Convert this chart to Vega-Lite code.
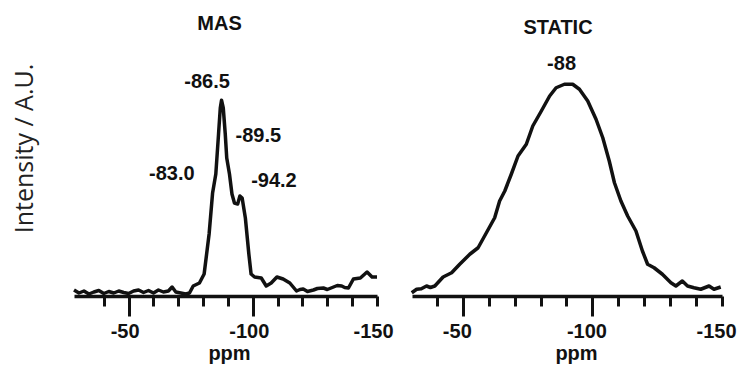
{
  "$schema": "https://vega.github.io/schema/vega-lite/v6.json",
  "background": "white",
  "padding": {"left": 12, "top": 14, "right": 0, "bottom": 2},
  "bounds": "flush",
  "spacing": 35,
  "config": {"view": {"stroke": null}, "font": "Liberation Sans"},
  "datasets": {
    "mas": [
      {"ppm": -28, "int": 2.4}, {"ppm": -30, "int": 1.2}, {"ppm": -32, "int": 2.0}, {"ppm": -34, "int": 0.8},
      {"ppm": -36, "int": 1.6}, {"ppm": -38, "int": 2.2}, {"ppm": -40, "int": 1.0}, {"ppm": -42, "int": 1.8},
      {"ppm": -44, "int": 1.2}, {"ppm": -46, "int": 2.0}, {"ppm": -48, "int": 1.4}, {"ppm": -50, "int": 1.0},
      {"ppm": -52, "int": 2.0}, {"ppm": -54, "int": 2.4}, {"ppm": -56, "int": 1.4}, {"ppm": -58, "int": 2.2},
      {"ppm": -60, "int": 1.2}, {"ppm": -62, "int": 2.4}, {"ppm": -64, "int": 1.6}, {"ppm": -66, "int": 2.0},
      {"ppm": -67.5, "int": 3.6}, {"ppm": -69, "int": 1.6}, {"ppm": -71, "int": 1.2}, {"ppm": -73, "int": 0.8},
      {"ppm": -74.5, "int": 1.2}, {"ppm": -76, "int": 4.0}, {"ppm": -78.5, "int": 5.2}, {"ppm": -80.4, "int": 8.8},
      {"ppm": -82.4, "int": 24.8}, {"ppm": -83.8, "int": 41.2}, {"ppm": -85.1, "int": 48.8}, {"ppm": -86.2, "int": 64.8},
      {"ppm": -86.9, "int": 75.2}, {"ppm": -87.4, "int": 78.3}, {"ppm": -88.1, "int": 75.2}, {"ppm": -88.9, "int": 64.8},
      {"ppm": -89.5, "int": 55.2}, {"ppm": -90.6, "int": 48.8}, {"ppm": -91.6, "int": 40.8}, {"ppm": -92.6, "int": 37.2},
      {"ppm": -93.9, "int": 36.8}, {"ppm": -94.8, "int": 40.0}, {"ppm": -95.7, "int": 39.2}, {"ppm": -97.0, "int": 31.2},
      {"ppm": -98.4, "int": 16.8}, {"ppm": -99.3, "int": 8.8}, {"ppm": -100.7, "int": 7.6}, {"ppm": -103.4, "int": 7.2},
      {"ppm": -105.4, "int": 4.0}, {"ppm": -107.4, "int": 5.2}, {"ppm": -109.7, "int": 7.6}, {"ppm": -112.2, "int": 6.8},
      {"ppm": -114.9, "int": 5.2}, {"ppm": -117.6, "int": 2.0}, {"ppm": -119, "int": 2.6}, {"ppm": -120.3, "int": 2.8},
      {"ppm": -122, "int": 1.8}, {"ppm": -124.4, "int": 2.4}, {"ppm": -126, "int": 3.0}, {"ppm": -128.4, "int": 3.2},
      {"ppm": -130, "int": 2.6}, {"ppm": -132.5, "int": 3.6}, {"ppm": -134, "int": 4.2}, {"ppm": -135.8, "int": 4.0},
      {"ppm": -137, "int": 3.4}, {"ppm": -138.5, "int": 3.2}, {"ppm": -140.5, "int": 6.8}, {"ppm": -143.3, "int": 7.2},
      {"ppm": -146.0, "int": 9.6}, {"ppm": -148.0, "int": 7.6}, {"ppm": -150.0, "int": 7.6}
    ],
    "static": [
      {"ppm": -30.3, "int": 1.3}, {"ppm": -32.2, "int": 2.7}, {"ppm": -34, "int": 2.9}, {"ppm": -36.0, "int": 4.0},
      {"ppm": -37.5, "int": 3.4}, {"ppm": -39.2, "int": 4.0}, {"ppm": -42.4, "int": 7.6}, {"ppm": -45.7, "int": 9.3},
      {"ppm": -48.8, "int": 12.7}, {"ppm": -52.7, "int": 16.7}, {"ppm": -55.9, "int": 19.3}, {"ppm": -59.1, "int": 25.3},
      {"ppm": -62.3, "int": 31.3}, {"ppm": -64.2, "int": 38.0}, {"ppm": -66.2, "int": 42.0}, {"ppm": -68.7, "int": 48.7},
      {"ppm": -71.3, "int": 56.0}, {"ppm": -74.5, "int": 60.7}, {"ppm": -77.0, "int": 68.0}, {"ppm": -80.3, "int": 74.0},
      {"ppm": -83.5, "int": 80.0}, {"ppm": -86.0, "int": 83.3}, {"ppm": -89.2, "int": 84.7}, {"ppm": -92.4, "int": 84.7},
      {"ppm": -95.0, "int": 82.7}, {"ppm": -98.2, "int": 78.0}, {"ppm": -101.4, "int": 70.7}, {"ppm": -104.0, "int": 63.3},
      {"ppm": -106.5, "int": 54.0}, {"ppm": -108.5, "int": 45.3}, {"ppm": -111.0, "int": 38.0}, {"ppm": -113.6, "int": 32.0},
      {"ppm": -116.8, "int": 26.0}, {"ppm": -119.3, "int": 18.0}, {"ppm": -121.3, "int": 12.7}, {"ppm": -123.8, "int": 11.3},
      {"ppm": -127.0, "int": 8.7}, {"ppm": -130.3, "int": 5.3}, {"ppm": -132.2, "int": 4.0}, {"ppm": -134.7, "int": 6.0},
      {"ppm": -136.7, "int": 4.0}, {"ppm": -139.2, "int": 3.3}, {"ppm": -141.8, "int": 2.7}, {"ppm": -145.0, "int": 4.0},
      {"ppm": -146.9, "int": 2.7}, {"ppm": -149.5, "int": 3.6}
    ],
    "masLabels": [
      {"ppm": -81.6, "int": 85.6, "label": "-86.5"},
      {"ppm": -102.2, "int": 64.0, "label": "-89.5"},
      {"ppm": -67.4, "int": 48.8, "label": "-83.0"},
      {"ppm": -108.5, "int": 46.0, "label": "-94.2"}
    ],
    "staticLabels": [
      {"ppm": -88.1, "int": 92.8, "label": "-88"}
    ]
  },
  "hconcat": [
    {
      "width": 303,
      "height": 250,
      "title": {"text": "MAS", "fontSize": 20, "fontWeight": "bold", "font": "Liberation Sans", "color": "#111", "anchor": "middle", "baseline": "alphabetic", "offset": -4, "dx": -6},
      "resolve": {"axis": {"x": "independent"}},
      "layer": [
        {
          "data": {"name": "mas"},
          "mark": {"type": "line", "color": "#111", "strokeWidth": 3.5, "strokeJoin": "round"},
          "encoding": {
            "x": {
              "field": "ppm", "type": "quantitative",
              "scale": {"domain": [-28, -150], "nice": false, "zero": false},
              "axis": {
                "orient": "bottom",
                "values": [-40, -50, -60, -70, -80, -90, -100, -110, -120, -130, -140, -150],
                "labelExpr": "(datum.value == -50 || datum.value == -100 || datum.value == -150) ? '' + datum.value : ''",
                "tickSize": 10, "tickWidth": 3, "tickColor": "#111", "domainColor": "#111", "domainWidth": 3.5,
                "labelFontSize": 20, "labelFont": "Liberation Sans", "labelFontWeight": "bold", "labelColor": "#111",
                "labelPadding": 15, "labelOffset": -4, "labelFlush": false, "labelOverlap": false, "grid": false,
                "title": "ppm", "titleFontSize": 20, "titleFont": "Liberation Sans", "titleFontWeight": "bold", "titleColor": "#111", "titlePadding": 2, "titleX": 155
              }
            },
            "y": {
              "field": "int", "type": "quantitative",
              "scale": {"domain": [0, 100], "nice": false},
              "axis": {"title": "Intensity / A.U.", "labels": false, "ticks": false, "domain": false, "grid": false,
                       "titleFont": "Open Sans", "titleFontSize": 25, "titleFontWeight": "normal", "titleColor": "#222", "titlePadding": 37, "titleY": 102}
            }
          }
        },
        {
          "data": {"name": "masLabels"},
          "mark": {"type": "text", "fontSize": 20, "fontWeight": "bold", "font": "Liberation Sans", "color": "#111", "align": "center", "baseline": "middle"},
          "encoding": {
            "x": {
              "field": "ppm", "type": "quantitative",
              "axis": {"orient": "bottom", "values": [-50, -100], "tickSize": 20, "tickWidth": 3, "tickColor": "#111",
                       "labels": false, "domain": false, "grid": false, "title": null}
            },
            "y": {"field": "int", "type": "quantitative"},
            "text": {"field": "label"}
          }
        }
      ]
    },
    {
      "width": 310,
      "height": 250,
      "title": {"text": "STATIC", "fontSize": 20, "fontWeight": "bold", "font": "Liberation Sans", "color": "#111", "anchor": "middle", "baseline": "alphabetic", "offset": -8, "dx": -9},
      "resolve": {"axis": {"x": "independent"}},
      "layer": [
        {
          "data": {"name": "static"},
          "mark": {"type": "line", "color": "#111", "strokeWidth": 3.5, "strokeJoin": "round"},
          "encoding": {
            "x": {
              "field": "ppm", "type": "quantitative",
              "scale": {"domain": [-30.4, -150], "nice": false, "zero": false},
              "axis": {
                "orient": "bottom",
                "values": [-40, -50, -60, -70, -80, -90, -100, -110, -120, -130, -140, -150],
                "labelExpr": "(datum.value == -50 || datum.value == -100 || datum.value == -150) ? '' + datum.value : ''",
                "tickSize": 10, "tickWidth": 3, "tickColor": "#111", "domainColor": "#111", "domainWidth": 3.5,
                "labelFontSize": 20, "labelFont": "Liberation Sans", "labelFontWeight": "bold", "labelColor": "#111",
                "labelPadding": 15, "labelOffset": -6, "labelFlush": false, "labelOverlap": false, "grid": false,
                "title": "ppm", "titleFontSize": 20, "titleFont": "Liberation Sans", "titleFontWeight": "bold", "titleColor": "#111", "titlePadding": 2, "titleX": 164
              }
            },
            "y": {
              "field": "int", "type": "quantitative",
              "scale": {"domain": [0, 100], "nice": false},
              "axis": null
            }
          }
        },
        {
          "data": {"name": "staticLabels"},
          "mark": {"type": "text", "fontSize": 20, "fontWeight": "bold", "font": "Liberation Sans", "color": "#111", "align": "center", "baseline": "middle"},
          "encoding": {
            "x": {
              "field": "ppm", "type": "quantitative",
              "axis": {"orient": "bottom", "values": [-50, -100], "tickSize": 20, "tickWidth": 3, "tickColor": "#111",
                       "labels": false, "domain": false, "grid": false, "title": null}
            },
            "y": {"field": "int", "type": "quantitative", "axis": null},
            "text": {"field": "label"}
          }
        }
      ]
    }
  ]
}
